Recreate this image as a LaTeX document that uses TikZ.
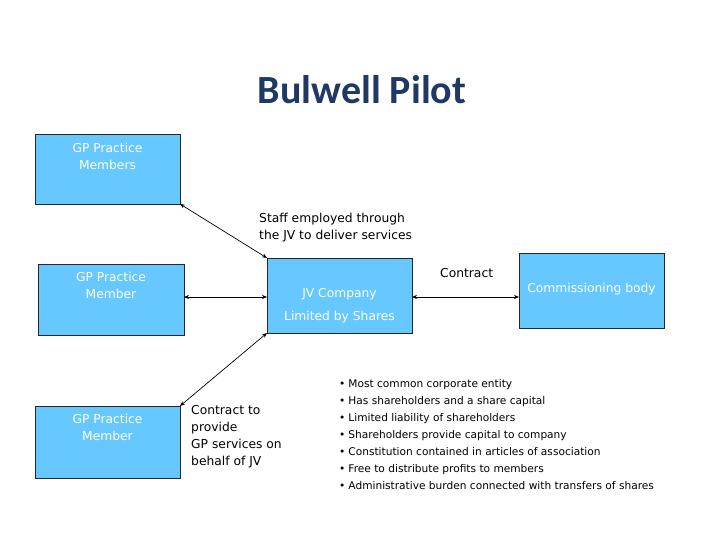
\documentclass[tikz,border=0pt]{standalone}
\usepackage{fontspec}
\setmainfont{DejaVu Sans}
\newfontfamily\titlefont{Carlito}
\usetikzlibrary{arrows.meta}
\definecolor{boxblue}{HTML}{66C8FF}
\definecolor{titleblue}{HTML}{1F3864}
\tikzset{
  bluebox/.style={draw=black!85, fill=boxblue, line width=0.8pt, inner sep=0pt},
  boxtext/.style={text=white, font=\fontsize{12.3}{17}\selectfont, align=center, anchor=north, inner sep=0pt},
  plain/.style={text=black, font=\fontsize{12.3}{17}\selectfont, align=left, inner sep=0pt},
  link/.style={line width=0.7pt, {Stealth[length=5pt,width=4pt]}-{Stealth[length=5pt,width=4pt]}}
}
\begin{document}
\begin{tikzpicture}[x=1pt,y=-1pt]
\useasboundingbox (0,0) rectangle (720,540);
\node[font=\titlefont\bfseries\fontsize{40}{44}\selectfont, text=titleblue, inner sep=0pt] (title) at (362,90) {Bulwell Pilot};

\draw[bluebox] (35,134) rectangle (180,204);
\coordinate (b1) at (35,134); \coordinate (b1c) at (180,204);
\node[boxtext] (t1) at (107.5,143) {GP Practice\\Members};

\draw[bluebox] (38,264) rectangle (184,335);
\coordinate (b2) at (184,297);
\node[boxtext] (t2) at (111,272) {GP Practice\\Member};

\draw[bluebox] (267,258) rectangle (412,333);
\coordinate (jvtl) at (267,258); \coordinate (jvl) at (267,297);
\coordinate (jvr) at (412,297); \coordinate (jvbl) at (267,333);
\node[boxtext] (t3) at (339.5,288) {JV Company\\[6pt]Limited by Shares};

\draw[bluebox] (519,253) rectangle (664,328);
\coordinate (b4) at (519,297);
\node[boxtext] (t4) at (591.5,283) {Commissioning body};

\draw[bluebox] (35,406) rectangle (180,478);
\coordinate (b5) at (180,406);
\node[boxtext] (t5) at (107.5,414) {GP Practice\\Member};

\draw[link] (b1c) -- (jvtl);
\draw[link] (b2) -- (jvl);
\draw[link] (jvr) -- (b4);
\draw[link] (b5) -- (jvbl);

\node[plain, anchor=north west] (staff) at (259,213) {Staff employed through\\the JV to deliver services};
\node[plain, anchor=north west] (contract) at (440,268) {Contract};
\node[plain, anchor=north west] (gp) at (191,405) {Contract to\\provide\\GP services on\\behalf of JV};
\node[plain, anchor=north west, font=\fontsize{10.6}{17}\selectfont] (bullets) at (339,379) {%
\textbullet\hspace{3pt}Most common corporate entity\\
\textbullet\hspace{3pt}Has shareholders and a share capital\\
\textbullet\hspace{3pt}Limited liability of shareholders\\
\textbullet\hspace{3pt}Shareholders provide capital to company\\
\textbullet\hspace{3pt}Constitution contained in articles of association\\
\textbullet\hspace{3pt}Free to distribute profits to members\\
\textbullet\hspace{3pt}Administrative burden connected with transfers of shares};
\end{tikzpicture}
\end{document}
